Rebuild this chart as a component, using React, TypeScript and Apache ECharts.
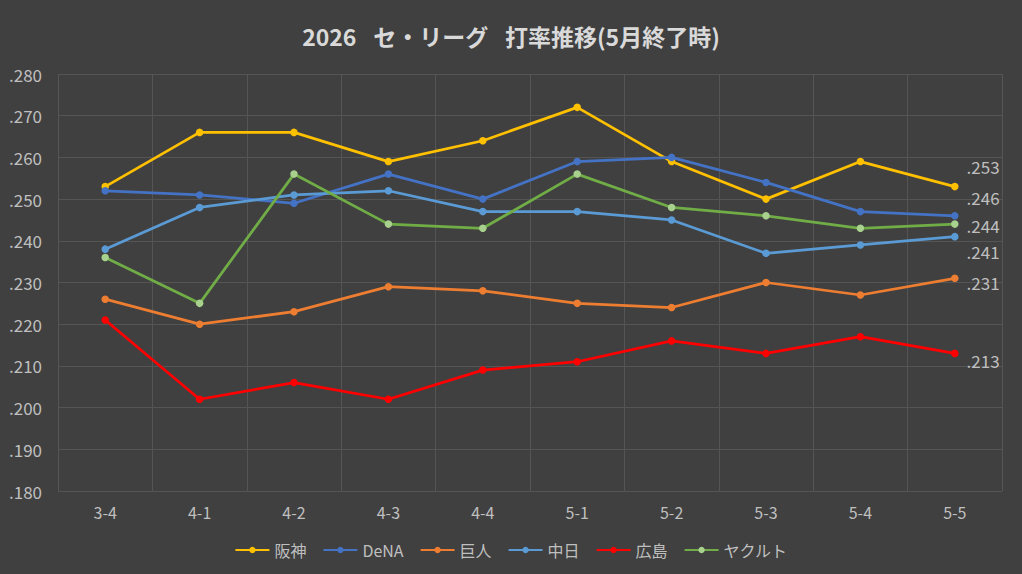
import React, { useEffect, useRef } from "react";
import * as echarts from "echarts";

const categories = ["3-4", "4-1", "4-2", "4-3", "4-4", "5-1", "5-2", "5-3", "5-4", "5-5"];
const hanshin = [0.253, 0.266, 0.266, 0.259, 0.264, 0.272, 0.259, 0.25, 0.259, 0.253];
const dena = [0.252, 0.251, 0.249, 0.256, 0.25, 0.259, 0.26, 0.254, 0.247, 0.246];
const kyojin = [0.226, 0.22, 0.223, 0.229, 0.228, 0.225, 0.224, 0.23, 0.227, 0.231];
const chunichi = [0.238, 0.248, 0.251, 0.252, 0.247, 0.247, 0.245, 0.237, 0.239, 0.241];
const hiroshima = [0.221, 0.202, 0.206, 0.202, 0.209, 0.211, 0.216, 0.213, 0.217, 0.213];
const yakult = [0.236, 0.225, 0.256, 0.244, 0.243, 0.256, 0.248, 0.246, 0.243, 0.244];

const teams = [
  { name: "阪神", data: hanshin, line: "#FFC000", marker: "#FFC000", dy: -20 },
  { name: "DeNA", data: dena, line: "#4472C4", marker: "#4472C4", dy: -18 },
  { name: "巨人", data: kyojin, line: "#ED7D31", marker: "#ED7D31", dy: 4 },
  { name: "中日", data: chunichi, line: "#5B9BD5", marker: "#5B9BD5", dy: 15 },
  { name: "広島", data: hiroshima, line: "#FF0000", marker: "#FF0000", dy: 7 },
  { name: "ヤクルト", data: yakult, line: "#70AD47", marker: "#A9D18E", dy: 1 },
];

const fmt = (v: number) => v.toFixed(3).replace(/^0/, "");
const FONT = "'Noto Sans CJK JP', 'Noto Sans', sans-serif";

export default function App() {
  const ref = useRef<HTMLDivElement>(null);
  useEffect(() => {
    document.body.style.margin = "0";
    if (!ref.current) return;
    const chart = echarts.init(ref.current, null, { renderer: "svg" });
    chart.setOption({
      animation: false,
      backgroundColor: "#404040",
      textStyle: { fontFamily: FONT },
      title: {
        text: "2026 \u2002セ・リーグ \u2002打率推移(5月終了時)",
        left: "center",
        top: 19,
        textStyle: { color: "#D9D9D9", fontSize: 23, fontWeight: "bold", fontFamily: FONT },
      },
      legend: {
        top: 537,
        left: "center",
        itemWidth: 34,
        itemHeight: 8,
        itemGap: 16,
        textStyle: { color: "#BFBFBF", fontSize: 16, fontFamily: FONT },
        data: teams.map((t) => t.name),
      },
      grid: { left: 58, right: 20, top: 74, bottom: 83, containLabel: false },
      xAxis: {
        type: "category",
        data: categories,
        boundaryGap: true,
        axisLine: { show: false },
        axisTick: { show: false },
        axisLabel: { color: "#BFBFBF", fontSize: 16, margin: 13, fontFamily: FONT },
        splitLine: { show: true, lineStyle: { color: "#555555", width: 1 } },
      },
      yAxis: {
        type: "value",
        min: 0.18,
        max: 0.28,
        interval: 0.01,
        axisLine: { show: false },
        axisTick: { show: false },
        axisLabel: {
          color: "#BFBFBF",
          fontSize: 17,
          margin: 16,
          fontFamily: FONT,
          formatter: (v: number) => fmt(v),
        },
        splitLine: { show: true, lineStyle: { color: "#555555", width: 1 } },
      },
      series: teams.map((t) => ({
        name: t.name,
        type: "line",
        data: t.data.map((v, i) =>
          i === t.data.length - 1
            ? {
                value: v,
                label: {
                  show: true,
                  position: "right",
                  distance: 8,
                  offset: [0, t.dy],
                  color: "#BFBFBF",
                  fontSize: 17,
                  fontFamily: FONT,
                  formatter: (p: any) => fmt(p.value),
                },
              }
            : v
        ),
        symbol: "circle",
        symbolSize: 7.5,
        lineStyle: { color: t.line, width: 2.75 },
        itemStyle: { color: t.marker, borderWidth: 0 },
        emphasis: { disabled: true },
      })),
    });
    return () => chart.dispose();
  }, []);
  return <div ref={ref} style={{ width: 1022, height: 574 }} />;
}
